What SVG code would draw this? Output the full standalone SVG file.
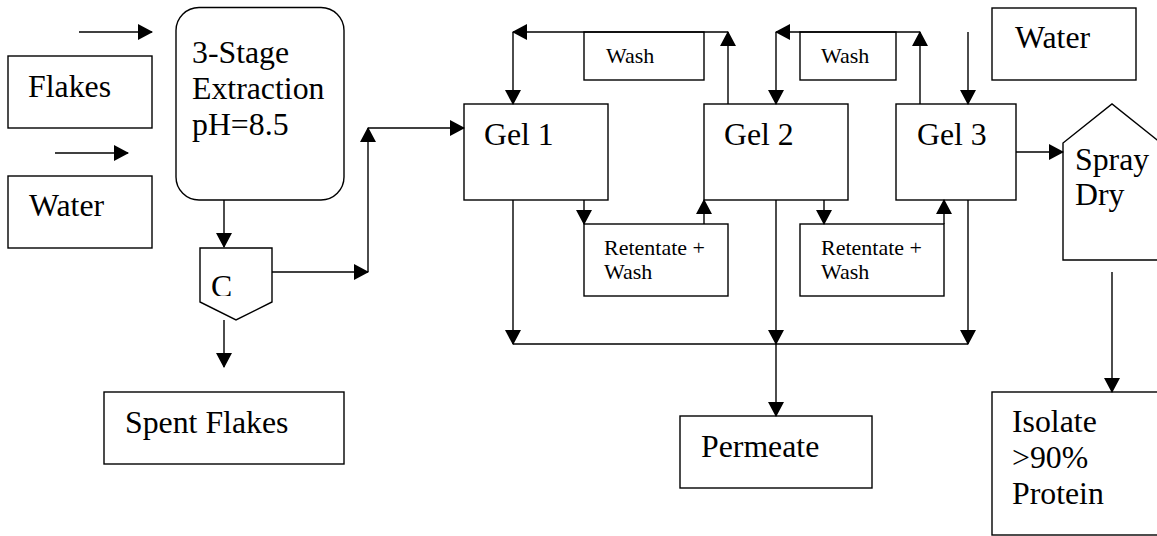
<svg xmlns="http://www.w3.org/2000/svg" width="1157" height="536" viewBox="0 0 1157 536">
<style>
.box{fill:#fff;stroke:#000;stroke-width:1.4}
.t{font-family:"Liberation Serif","Times New Roman",serif;font-size:31.8px;fill:#000}
.s{font-family:"Liberation Serif","Times New Roman",serif;font-size:22px;fill:#000}
.c line{stroke:#000;stroke-width:1.4;marker-end:url(#ah)}
.c line.n{marker-end:none}
</style>
<defs>
<marker id="ah" markerUnits="userSpaceOnUse" markerWidth="16" markerHeight="16" refX="14" refY="8" orient="auto" overflow="visible">
<path d="M0,0 L15,8 L0,16 z" fill="#000"/>
</marker>
<clipPath id="cclip"><rect x="200" y="248" width="72" height="48"/></clipPath>
</defs>
<rect width="1157" height="536" fill="#fff"/>
<g id="flakes"><rect class="box" x="8" y="56" width="144" height="72"/><text class="t" x="28" y="97">Flakes</text></g>
<g id="water-in"><rect class="box" x="8" y="176" width="144" height="72"/><text class="t" x="29" y="216">Water</text></g>
<g id="extraction"><rect class="box" x="176" y="7.5" width="168" height="192.5" rx="23"/><text class="t" x="192" y="63">3-Stage</text><text class="t" x="192" y="99">Extraction</text><text class="t" x="192" y="135">pH=8.5</text></g>
<g id="centrifuge"><path class="box" d="M200,248 L272,248 L272,302 L236,320 L200,302 Z"/><text class="t" x="211" y="297" clip-path="url(#cclip)">C</text></g>
<g id="spent"><rect class="box" x="104" y="392" width="240" height="72"/><text class="t" x="125" y="433">Spent Flakes</text></g>
<g id="gel1"><rect class="box" x="464" y="104" width="144" height="96"/><text class="t" x="484" y="145">Gel 1</text></g>
<g id="gel2"><rect class="box" x="704" y="104" width="144" height="96"/><text class="t" x="724" y="145">Gel 2</text></g>
<g id="gel3"><rect class="box" x="896" y="104" width="120" height="96"/><text class="t" x="917" y="145">Gel 3</text></g>
<g id="wash1"><rect class="box" x="584" y="32" width="120" height="48"/><text class="s" x="606" y="63">Wash</text></g>
<g id="wash2"><rect class="box" x="800" y="32" width="96" height="48"/><text class="s" x="821" y="63">Wash</text></g>
<g id="water-out"><rect class="box" x="992" y="8" width="144" height="72"/><text class="t" x="1015" y="48">Water</text></g>
<g id="ret1"><rect class="box" x="584" y="224" width="144" height="72"/><text class="s" x="604" y="255">Retentate +</text><text class="s" x="604" y="279">Wash</text></g>
<g id="ret2"><rect class="box" x="800" y="224" width="144" height="72"/><text class="s" x="821" y="255">Retentate +</text><text class="s" x="821" y="279">Wash</text></g>
<g id="spray"><path class="box" d="M1063,260 L1063,143 L1112,104 L1161,143 L1161,260 Z"/><text class="t" x="1075" y="170">Spray</text><text class="t" x="1075" y="205">Dry</text></g>
<g id="permeate"><rect class="box" x="680" y="416" width="192" height="72"/><text class="t" x="701" y="457">Permeate</text></g>
<g id="isolate"><rect class="box" x="992" y="392" width="180" height="143"/><text class="t" x="1012" y="432">Isolate</text><text class="t" x="1012" y="468">&gt;90%</text><text class="t" x="1012" y="504">Protein</text></g>
<g id="connectors" class="c">
<line x1="79" y1="32" x2="152" y2="32"/>
<line x1="55" y1="153" x2="128" y2="153"/>
<line x1="224" y1="200" x2="224" y2="247"/>
<line x1="224" y1="320" x2="224" y2="367"/>
<line x1="272" y1="272" x2="368" y2="272"/>
<line x1="368" y1="272" x2="368" y2="128"/>
<line x1="368" y1="128" x2="464" y2="128"/>
<line x1="728" y1="104" x2="728" y2="32"/>
<line x1="728" y1="32" x2="513" y2="32"/>
<line x1="513" y1="32" x2="513" y2="104"/>
<line x1="920" y1="104" x2="920" y2="32"/>
<line x1="920" y1="32" x2="776" y2="32"/>
<line x1="776" y1="32" x2="776" y2="104"/>
<line x1="968" y1="32" x2="968" y2="104"/>
<line x1="1016" y1="152" x2="1063" y2="152"/>
<line x1="584" y1="200" x2="584" y2="224"/>
<line x1="704" y1="224" x2="704" y2="200"/>
<line x1="824" y1="200" x2="824" y2="224"/>
<line x1="944" y1="224" x2="944" y2="200"/>
<line x1="513" y1="200" x2="513" y2="344"/>
<line x1="776" y1="200" x2="776" y2="344"/>
<line x1="968" y1="200" x2="968" y2="344"/>
<line class="n" x1="513" y1="344" x2="968" y2="344"/>
<line x1="776" y1="344" x2="776" y2="416"/>
<line x1="1112" y1="272" x2="1112" y2="392"/>
</g>
</svg>
